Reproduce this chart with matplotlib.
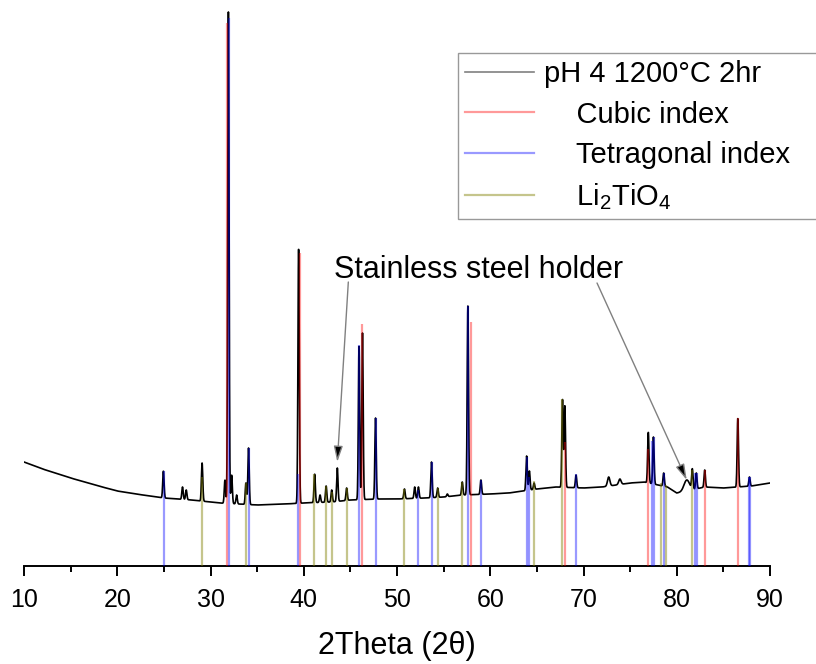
import numpy as np
import matplotlib
matplotlib.use('Agg')
import matplotlib.pyplot as plt
from matplotlib.lines import Line2D

plt.rcParams['font.family'] = ['Liberation Sans', 'DejaVu Sans']
plt.rcParams['mathtext.fontset'] = 'custom'
plt.rcParams['mathtext.rm'] = 'Liberation Sans'
plt.rcParams['mathtext.it'] = 'Liberation Sans:italic'

# background of the pattern (2theta, intensity)
bg_pos = [10, 12, 15, 18, 20, 22, 25, 28, 30, 31, 35, 38, 40, 43, 45, 48, 50, 53, 55, 57,
          60, 62, 65, 67, 70, 72, 75, 76.5, 79, 80, 80.6, 83, 85, 88, 90]
bg_val = [104, 97, 88, 80, 75, 72, 68, 66, 64, 63, 61, 62, 63, 64, 66, 67, 67, 68, 69, 71,
          72, 73, 77, 79, 78, 79, 83, 84, 79, 73, 74, 79, 78, 80, 83]

# peaks of the pattern: position, top intensity, width
peak_pos = [24.95, 27.0, 27.4, 29.1, 31.55, 31.92, 32.27, 32.8, 33.8, 34.08, 39.45, 41.17,
            41.75, 42.4, 43.0, 43.6, 44.6, 45.93, 46.3, 47.7, 50.8, 51.9, 52.3, 53.7, 54.36,
            55.4, 57.0, 57.6, 59.0, 63.9, 64.2, 64.7, 67.75, 68.0, 69.2, 72.7, 73.9, 76.95,
            77.5, 78.6, 81.07, 81.67, 82.1, 83.0, 86.55, 87.8]
peak_top = [95, 79, 76, 103, 86, 554, 91, 71, 83, 118, 319, 92,
            71, 80, 76, 98, 78, 221, 233, 148, 77, 79, 79, 104, 78,
            72, 84, 260, 86, 110, 95, 83, 167, 160, 91, 89, 87, 134,
            129, 93, 86, 96, 93, 96, 148, 89]
peak_w = [0.17] * len(peak_pos)
peak_w[peak_pos.index(81.07)] = 0.7
peak_w[peak_pos.index(72.7)] = 0.3
peak_w[peak_pos.index(73.9)] = 0.3

# reference index lines: position, height
cubic_pos = [31.8, 39.6, 46.3, 57.95, 68.05, 76.95, 83.0, 86.55]
cubic_h = [543, 313, 242, 244, 124, 117, 96, 148]
tetra_pos = [25.0, 32.0, 34.1, 39.4, 45.9, 47.7, 52.2, 53.7, 57.6, 59.0, 63.9, 64.2, 69.2,
             77.35, 77.55, 78.6, 82.0, 82.2, 87.7, 87.9]
tetra_h = [95, 548, 118, 92, 221, 148, 76, 104, 260, 86, 109, 89, 92,
           125, 129, 93, 93, 93, 89, 89]
li_pos = [29.1, 33.8, 41.15, 42.4, 43.0, 44.6, 50.8, 54.35, 57.0, 64.7, 67.7, 78.3, 78.85, 81.65]
li_h = [89, 83, 92, 80, 74, 78, 77, 78, 84, 85, 167, 83, 81, 96]

x = np.arange(10, 90.001, 0.02)
bg = np.interp(x, bg_pos, bg_val)
y = bg.copy()
for p, t, w in zip(peak_pos, peak_top, peak_w):
    s = w / 2.355
    y += (t - np.interp(p, bg_pos, bg_val)) * np.exp(-0.5 * ((x - p) / s) ** 2)

fig = plt.figure(figsize=(8.16, 6.64), dpi=100)
ax = fig.add_axes([24 / 816, 98 / 664, 746 / 816, 556 / 664])

ax.plot(x, y, color='black', lw=1.2, zorder=2)
ax.vlines(cubic_pos, 0, cubic_h, colors='red', alpha=0.4, lw=1.6, zorder=3)
ax.vlines(tetra_pos, 0, tetra_h, colors='blue', alpha=0.4, lw=1.6, zorder=3)
ax.vlines(li_pos, 0, li_h, colors='olive', alpha=0.45, lw=1.6, zorder=3)

ax.set_xlim(10, 90)
ax.set_ylim(0, 556)
for s in ['left', 'right', 'top']:
    ax.spines[s].set_visible(False)
ax.spines['bottom'].set_linewidth(1.4)
ax.set_yticks([])
ax.set_xticks(np.arange(10, 91, 10))
ax.set_xticks(np.arange(15, 90, 10), minor=True)
ax.tick_params(axis='x', which='major', length=7, width=1.4, labelsize=18, pad=8.5)
ax.tick_params(axis='x', which='minor', length=4, width=1.4)
ax.set_xlabel('2Theta (2θ)', fontsize=22, labelpad=14)

ax.text(43.24, 288, 'Stainless steel holder', fontsize=22, va='baseline', ha='left')
arr = dict(arrowstyle='-|>,head_length=0.95,head_width=0.27', ec='gray', fc='black',
           lw=1, shrinkA=0, shrinkB=0)
ax.annotate('', xy=(43.6, 104), xytext=(44.78, 284), arrowprops=arr)
ax.annotate('', xy=(81.07, 86), xytext=(71.45, 283), arrowprops=arr)

handles = [Line2D([], [], color='#808080', lw=1.2),
           Line2D([], [], color='red', alpha=0.4, lw=1.6),
           Line2D([], [], color='blue', alpha=0.4, lw=1.6),
           Line2D([], [], color='olive', alpha=0.45, lw=1.6)]
labels = ['pH 4 1200°C 2hr', '    Cubic index', '    Tetragonal index   ', '    Li$_2$TiO$_4$']
leg = ax.legend(handles, labels, loc='upper left', bbox_to_anchor=(458 / 816, 1 - 53 / 664),
                bbox_transform=fig.transFigure, fontsize=21, frameon=True, fancybox=False,
                edgecolor='#808080', handlelength=2.36, handletextpad=0.33,
                labelspacing=0.42, borderpad=0.25, borderaxespad=0)
leg.get_frame().set_linewidth(1.0)

fig.savefig('out.png', dpi=100)
